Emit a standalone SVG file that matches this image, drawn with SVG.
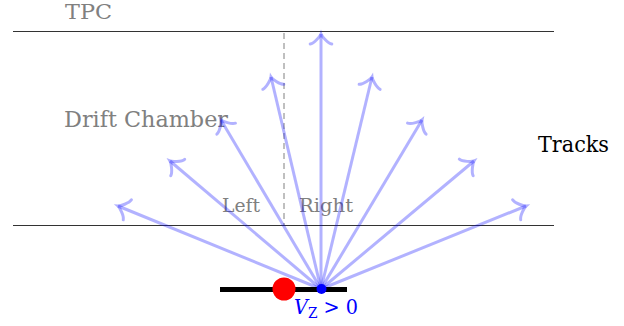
<svg xmlns="http://www.w3.org/2000/svg" width="624" height="326" viewBox="0 0 624 326">
<style>
.lbl{font-family:"DejaVu Serif","Liberation Serif",serif;fill:#808080}
.trk{stroke:#0000ff;stroke-opacity:0.3;stroke-width:3;fill:none;marker-end:url(#to)}
</style>
<defs>
<marker id="to" markerUnits="userSpaceOnUse" orient="auto" refX="2" refY="0" markerWidth="30" markerHeight="30" viewBox="-12 -15 30 30" overflow="visible">
<path d="M -8.1,-10.8 C -7.4,-6.75 0,-0.7 2,0 C 0,0.7 -7.4,6.75 -8.1,10.8" fill="none" stroke="#0000ff" stroke-opacity="0.3" stroke-width="3" stroke-linecap="round"/>
</marker>
</defs>
<g id="layers">
<line x1="13" y1="31.5" x2="554" y2="31.5" stroke="#333" stroke-width="1.2"/>
<line x1="13" y1="225.5" x2="554" y2="225.5" stroke="#333" stroke-width="1.2"/>
<line x1="284" y1="33" x2="284" y2="225" stroke="#808080" stroke-width="1" stroke-dasharray="6,4"/>
</g>
<g id="labels">
<text class="lbl" x="65" y="19" font-size="20" textLength="47" lengthAdjust="spacingAndGlyphs">TPC</text>
<text class="lbl" x="64" y="127" font-size="22" textLength="164" lengthAdjust="spacingAndGlyphs">Drift Chamber</text>
<text class="lbl" x="222" y="212" font-size="19" textLength="38" lengthAdjust="spacingAndGlyphs">Left</text>
<text class="lbl" x="299" y="212" font-size="19" textLength="54" lengthAdjust="spacingAndGlyphs">Right</text>
<text x="538" y="152" font-size="22" font-family="DejaVu Serif, Liberation Serif, serif" fill="#000" textLength="71" lengthAdjust="spacingAndGlyphs">Tracks</text>
</g>
<g id="connectors">
<line class="trk" x1="321" y1="289" x2="118" y2="206"/>
<line class="trk" x1="321" y1="289" x2="170" y2="161"/>
<line class="trk" x1="321" y1="289" x2="221" y2="120"/>
<line class="trk" x1="321" y1="289" x2="271" y2="77"/>
<line class="trk" x1="321" y1="289" x2="321" y2="34"/>
<line class="trk" x1="321" y1="289" x2="372" y2="77"/>
<line class="trk" x1="321" y1="289" x2="422" y2="120"/>
<line class="trk" x1="321" y1="289" x2="474" y2="161"/>
<line class="trk" x1="321" y1="289" x2="526" y2="206"/>
</g>
<g id="vertex">
<line x1="220" y1="289.5" x2="347" y2="289.5" stroke="#000" stroke-width="5"/>
<circle cx="284" cy="289" r="11.5" fill="#ff0000"/>
<circle cx="321.5" cy="289" r="5" fill="#0000ff"/>
<text x="294" y="314" font-family="DejaVu Serif, Liberation Serif, serif" font-size="21" fill="#0000ff" textLength="64" lengthAdjust="spacingAndGlyphs"><tspan font-style="italic">V</tspan><tspan font-size="15" dy="4">Z</tspan><tspan dy="-4"> &gt; 0</tspan></text>
</g>
</svg>
